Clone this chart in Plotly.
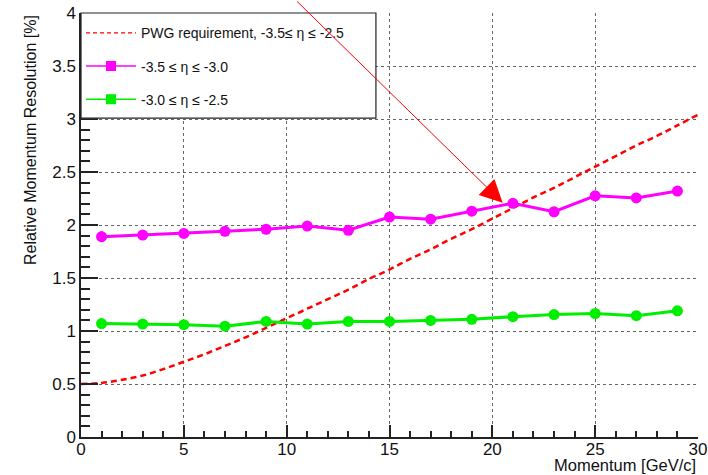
import plotly.graph_objects as go

# Momentum bins [GeV/c]
momentum = [1, 3, 5, 7, 9, 11, 13, 15, 17, 19, 21, 23, 25, 27, 29]

# Relative momentum resolution [%] for the two eta ranges
res_eta_35_30 = [1.89, 1.905, 1.92, 1.94, 1.96, 1.99, 1.95, 2.075, 2.055, 2.13, 2.205, 2.125, 2.275, 2.255, 2.32]
err_eta_35_30 = [0.05, 0.03, 0.03, 0.03, 0.03, 0.03, 0.03, 0.03, 0.03, 0.03, 0.03, 0.03, 0.03, 0.03, 0.03]
res_eta_30_25 = [1.07, 1.065, 1.06, 1.045, 1.09, 1.065, 1.09, 1.09, 1.10, 1.11, 1.135, 1.155, 1.165, 1.145, 1.19]
err_eta_30_25 = [0.02] * 15

# PWG requirement curve, -3.5 <= eta <= -2.5
req_momentum = list(range(0, 31))
req_resolution = [0.50, 0.51, 0.54, 0.58, 0.64, 0.71, 0.78, 0.86, 0.94, 1.03,
                  1.12, 1.21, 1.30, 1.39, 1.49, 1.58, 1.68, 1.77, 1.87, 1.96,
                  2.06, 2.16, 2.26, 2.35, 2.45, 2.55, 2.65, 2.75, 2.84, 2.94, 3.04]

MAGENTA = "#ff00ff"
GREEN = "#00ee00"
RED = "#ff0000"
FONT = "Liberation Sans, Arial, Helvetica, sans-serif"

fig = go.Figure()

# requirement curve
fig.add_trace(go.Scatter(
    x=req_momentum, y=req_resolution, mode="lines",
    line=dict(color=RED, width=2.5, dash="6px,4px", shape="spline"),
    showlegend=False,
))

# measured resolutions (drawn with circles, legend shows squares)
fig.add_trace(go.Scatter(
    x=momentum, y=res_eta_35_30, mode="lines+markers",
    line=dict(color=MAGENTA, width=3),
    marker=dict(color=MAGENTA, size=11, symbol="circle"),
    error_y=dict(type="data", array=err_eta_35_30, color=MAGENTA, thickness=3, width=0),
    showlegend=False,
))
fig.add_trace(go.Scatter(
    x=momentum, y=res_eta_30_25, mode="lines+markers",
    line=dict(color=GREEN, width=3),
    marker=dict(color=GREEN, size=11, symbol="circle"),
    error_y=dict(type="data", array=err_eta_30_25, color=GREEN, thickness=3, width=0),
    showlegend=False,
))

# legend entries
fig.add_trace(go.Scatter(
    x=[None], y=[None], mode="lines+markers",
    line=dict(color=RED, width=1.3, dash="4px,3px"),
    marker=dict(size=1, color="rgba(0,0,0,0)"),
    name="PWG requirement, -3.5≤ η ≤ -2.5", legendgroup="a",
))
fig.add_trace(go.Scatter(
    x=[None], y=[None], mode="lines+markers",
    line=dict(color=MAGENTA, width=1.5),
    marker=dict(color=MAGENTA, size=10, symbol="square"),
    name="-3.5 ≤ η ≤ -3.0", legendgroup="b",
))
fig.add_trace(go.Scatter(
    x=[None], y=[None], mode="lines+markers",
    line=dict(color=GREEN, width=1.5),
    marker=dict(color=GREEN, size=10, symbol="square"),
    name="-3.0 ≤ η ≤ -2.5", legendgroup="c",
))

axis_common = dict(
    showgrid=True, gridcolor="#666666", griddash="dot", gridwidth=1,
    zeroline=False, showline=True, linecolor="#222222", linewidth=1.5,
    ticks="inside", tickcolor="#222222", tickwidth=1.5, automargin=False,
    tickfont=dict(family=FONT, size=17, color="#111111"),
)

fig.update_xaxes(
    range=[0, 30], dtick=5, tick0=0, ticklen=12, ticklabelstandoff=-4,
    minor=dict(dtick=1, ticks="inside", ticklen=6, tickcolor="#222222", showgrid=False),
    **axis_common,
)
fig.update_yaxes(
    range=[0, 4], dtick=0.5, tick0=0, ticklen=17,
    minor=dict(dtick=0.1, ticks="inside", ticklen=9, tickcolor="#222222", showgrid=False),
    **axis_common,
)

fig.update_layout(
    width=708, height=475,
    margin=dict(l=81, r=10, t=13, b=38),
    plot_bgcolor="white", paper_bgcolor="white",
    font=dict(family=FONT, color="#111111"),
    legend=dict(
        x=0.0, y=0.99, xanchor="left", yanchor="top",
        bgcolor="rgba(255,255,255,0)", borderwidth=0,
        font=dict(family=FONT, size=14, color="#111111"),
        tracegroupgap=12, itemwidth=50,
    ),
    shapes=[
        # legend frame
        dict(type="rect", xref="paper", yref="paper",
             x0=0, x1=0.478, y0=0.752, y1=1.0,
             line=dict(color="#222222", width=1.2), fillcolor="white", layer="above"),
    ],
    annotations=[
        dict(text="Relative Momentum Resolution [%]", xref="paper", yref="paper",
             x=0, y=1, xshift=-51, xanchor="center", yanchor="top", textangle=-90,
             showarrow=False, font=dict(family=FONT, size=16, color="#111111")),
        dict(text="Momentum [GeV/c]", xref="paper", yref="paper",
             x=1, y=0, yshift=-28, xanchor="right", yanchor="middle",
             showarrow=False, font=dict(family=FONT, size=16.5, color="#111111")),
        dict(text="", x=20.5, y=2.21, xref="x", yref="y",
             showarrow=True, ax=-207, ay=-207, axref="pixel", ayref="pixel",
             arrowcolor=RED, arrowwidth=1, arrowhead=2, arrowsize=4.5, standoff=0),
    ],
)

fig.write_html("out.html")
